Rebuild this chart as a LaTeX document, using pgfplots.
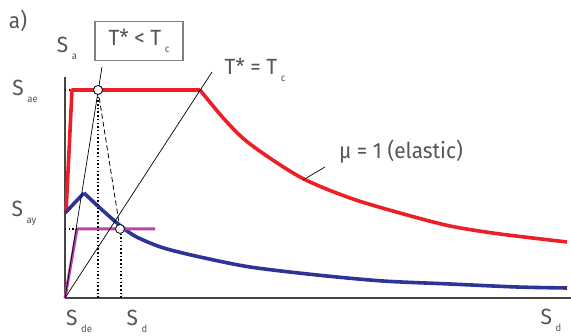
\documentclass[border=0pt]{standalone}
\usepackage{fontspec}
\setmainfont{Fira Sans}[FakeStretch=0.95]
\usepackage{pgfplots}
\pgfplotsset{compat=1.18}
\definecolor{spred}{RGB}{237,30,38}
\definecolor{spblue}{RGB}{44,52,150}
\definecolor{spmag}{RGB}{186,66,168}
\definecolor{txtgray}{RGB}{85,85,85}
\definecolor{axgray}{RGB}{70,70,70}
\newcommand{\sub}[1]{\,\raisebox{-0.6ex}{\fontsize{10}{10}\selectfont #1}}
\begin{document}
\begin{tikzpicture}[font=\fontsize{22}{24}\selectfont]
\begin{axis}[x=1pt,y=1pt,xmin=0,xmax=506,ymin=0,ymax=221,
  enlargelimits=false,axis lines=left,
  axis line style={draw=axgray,line width=2.2pt,-},
  ticks=none,clip=false]
% elastic spectrum
\addplot[spred,line width=3.6pt,line join=round] coordinates {(1,85) (7,208) (135,208)};
\addplot[spred,line width=3.6pt,smooth] coordinates {
(135,208) (160,178) (185,154) (235,121) (285,100) (335,85) (385,72) (435,64) (502,56)};
% inelastic spectrum
\addplot[spblue,line width=3.6pt,line join=round] coordinates {(0,85) (19,105)};
\addplot[spblue,line width=3.6pt,smooth] coordinates {
(19,105) (35,90) (52,75) (68,63) (85,55) (102,49) (135,41) (185,31) (252,23) (318,17) (385,14) (452,11) (502,10)};
% capacity curve
\addplot[spmag,line width=3pt,line join=round] coordinates {(0,0) (12,69) (90,69)};
% period lines
\addplot[black,line width=0.7pt] coordinates {(0,0) (147,226)};
\addplot[black,line width=0.7pt] coordinates {(0,0) (37,231)};
\addplot[black,line width=0.8pt,dash pattern=on 5pt off 3pt] coordinates {(33,208) (55,69)};
\addplot[black,line width=1.6pt,dash pattern=on 1.5pt off 2.2pt] coordinates {(33,0) (33,208)};
\addplot[black,line width=1.6pt,dash pattern=on 1.5pt off 2.2pt] coordinates {(56,0) (56,69)};
\addplot[black,line width=1.6pt,dash pattern=on 1.5pt off 2.2pt] coordinates {(0,69) (12,69)};
\addplot[black,line width=1.6pt,dash pattern=on 1.5pt off 2.2pt] coordinates {(0,208) (7,208)};
\addplot[only marks,mark=*,mark size=4.5pt,mark options={fill=white,draw=black,line width=0.8pt}]
  coordinates {(33,208) (55,69)};
\draw[black,line width=0.7pt] (axis cs:238,118) -- (axis cs:260,131);
% labels
\begin{scope}[text=txtgray]
\node at (axis cs:-47,277) {a)};
\node at (axis cs:2,250) {S\sub{a}};
\node at (axis cs:-40,207) {S\sub{ae}};
\node at (axis cs:-41,85) {S\sub{ay}};
\node at (axis cs:14,-23) {S\sub{de}};
\node at (axis cs:72,-23) {S\sub{d}};
\node at (axis cs:486,-22) {S\sub{d}};
\node[draw=gray,line width=1.2pt,minimum width=88pt,minimum height=39pt,inner sep=2pt] at (axis cs:74,257) {T* < T\sub{c}};
\node at (axis cs:190,228) {T* = T\sub{c}};
\node at (axis cs:336,146) {μ = 1 (elastic)};
\end{scope}
\end{axis}
\pgfresetboundingbox
\path (-65pt,-38pt) rectangle (506pt,298pt);
\end{tikzpicture}
\end{document}
